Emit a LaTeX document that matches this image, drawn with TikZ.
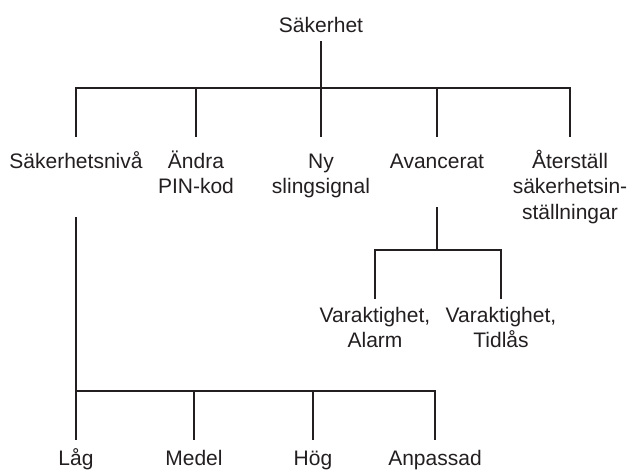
\documentclass[tikz,border=0pt]{standalone}
\usepackage{fontspec}
\setmainfont{Liberation Sans}
\usepackage{tikz}
\usetikzlibrary{positioning}
\definecolor{InkBlack}{RGB}{35, 31, 32}
\tikzset{
    menu/.style={font=\fontsize{21}{25.5}\selectfont, text=InkBlack, align=center,
        inner sep=0pt, anchor=north, text height=31pt},
    twoline/.style={menu, text height=56.5pt},
    threeline/.style={menu, text height=82pt},
    branch/.style={draw=InkBlack, line width=1.6pt},
}

\begin{document}
\begin{tikzpicture}[x=1pt, y=-1pt]
    \useasboundingbox (0,0) rectangle (633,470);
    \node[menu, text height=15pt, text depth=9pt] (root) at (321,17) {Säkerhet};
    \node[menu, text depth=49pt] (niva) at (76,137) {Säkerhetsnivå};
    \node[twoline] (pin) at (196,137) {Ändra\\PIN-kod};
    \node[twoline] (slinga) at (321,137) {Ny\\slingsignal};
    \node[menu, text depth=39pt] (avancerat) at (437,137) {Avancerat};
    \node[threeline] (reset) at (570,137) {Återställ\\säkerhetsin-\\ställningar};
    \node[twoline, text height=48.5pt] (alarm) at (375,299) {Varaktighet,\\Alarm};
    \node[twoline, text height=48.5pt] (tidlas) at (501,299) {Varaktighet,\\Tidlås};
    \node[menu, text height=25pt] (lag) at (76,440) {Låg};
    \node[menu, text height=25pt] (medel) at (194,440) {Medel};
    \node[menu, text height=25pt] (hog) at (313,440) {Hög};
    \node[menu, text height=25pt] (anpassad) at (435,440) {Anpassad};
    \coordinate (topbar) at (321,88);
    \coordinate (advbar) at (437,250);
    \coordinate (nivabar) at (76,391);
    \draw[branch] (root.south) -- (topbar);
    \foreach \c in {niva,pin,slinga,avancerat,reset}
        \draw[branch] (topbar) -| (\c.north);
    \draw[branch] (avancerat.south) -- (advbar);
    \foreach \c in {alarm,tidlas}
        \draw[branch] (advbar) -| (\c.north);
    \draw[branch] (niva.south) -- (nivabar);
    \foreach \c in {lag,medel,hog,anpassad}
        \draw[branch] (nivabar) -| (\c.north);
\end{tikzpicture}
\end{document}
